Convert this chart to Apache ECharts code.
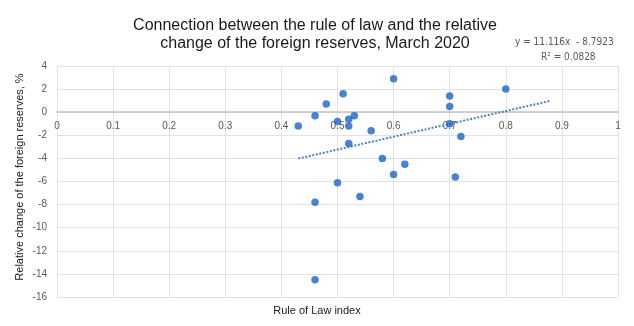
<!DOCTYPE html>
<html>
<head>
<meta charset="utf-8">
<style>
html,body{margin:0;padding:0;background:#fff;}
#c{width:634px;height:326px;}
</style>
<script src="https://cdn.jsdelivr.net/npm/echarts@6/dist/echarts.min.js"></script>
</head>
<body>
<div id="c"></div>
<script>
// Rule of Law index values
const ruleOfLaw = [0.43,0.46,0.48,0.51,0.50,0.52,0.52,0.53,0.60,0.56,0.52,0.70,0.70,0.70,0.72,0.80,0.58,0.62,0.60,0.71,0.50,0.54,0.46,0.46];
// Relative change of foreign reserves, %
const reserveChange = [-1.2,-0.3,0.7,1.6,-0.8,-0.6,-1.2,-0.3,2.9,-1.6,-2.7,1.4,0.5,-1.0,-2.1,2.0,-4.0,-4.5,-5.4,-5.6,-6.1,-7.3,-7.8,-14.5];
// Linear trendline (as printed on chart)
const trendSlope = 11.116;
const trendIntercept = -8.7923;
const trendRangeX = [0.43, 0.88];
const titleLines = ["Connection between the rule of law and the relative", "change of the foreign reserves, March 2020"];
const equationLines = ["y = 11.116x  - 8.7923", "R\u00b2 = 0.0828"];
const xTitle = "Rule of Law index";
const yTitle = "Relative change of the foreign reserves, %";

const points = ruleOfLaw.map((x, i) => [x, reserveChange[i]]);
const trend = trendRangeX.map(x => [x, trendSlope * x + trendIntercept]);

const gridTop = 66, gridBottom = 29, H = 326;
const gridH = H - gridTop - gridBottom;
const yMin = -16, yMax = 4;
const zeroOffset = gridH * (0 - yMin) / (yMax - yMin);

const chart = echarts.init(document.getElementById('c'), null, {renderer: 'canvas'});
chart.setOption({
  animation: false,
  backgroundColor: '#ffffff',
  title: {
    text: titleLines.join('\n'),
    left: 310, top: 12, textAlign: 'center',
    textStyle: {fontFamily: 'Liberation Sans, Arial, sans-serif', fontSize: 16, fontWeight: 'normal', color: '#1a1a1a', lineHeight: 18}
  },
  graphic: [
    {type: 'text', left: 515, top: 37, style: {text: equationLines[0], font: '10px "Liberation Sans Narrow", "DejaVu Sans Condensed", sans-serif', fill: '#595959'}},
    {type: 'text', left: 541, top: 52, style: {text: equationLines[1], font: '10px "Liberation Sans Narrow", "DejaVu Sans Condensed", sans-serif', fill: '#595959'}},
    {type: 'text', left: 'center', top: 305, style: {text: xTitle, font: '11px "Liberation Sans", Arial, sans-serif', fill: '#1a1a1a'}},
    {type: 'text', x: 20, y: 177, rotation: Math.PI / 2, style: {text: yTitle, font: '11px "Liberation Sans", Arial, sans-serif', fill: '#1a1a1a', align: 'center', verticalAlign: 'middle'}}
  ],
  grid: {left: 57, right: 16, top: gridTop, bottom: gridBottom, containLabel: false},
  xAxis: {
    type: 'value', min: 0, max: 1, interval: 0.1,
    position: 'bottom', offset: -zeroOffset,
    axisLine: {show: true, onZero: false, lineStyle: {color: '#c4c4c4', width: 1.5}},
    axisTick: {show: false},
    axisLabel: {fontFamily: 'Liberation Sans, Arial, sans-serif', fontSize: 10, color: '#595959', margin: 9},
    splitLine: {show: true, lineStyle: {color: '#e3e3e3', width: 1}}
  },
  yAxis: {
    type: 'value', min: yMin, max: yMax, interval: 2,
    axisLine: {show: false},
    axisTick: {show: false},
    axisLabel: {fontFamily: 'Liberation Sans, Arial, sans-serif', fontSize: 10, color: '#595959', margin: 10},
    splitLine: {show: true, lineStyle: {color: '#e3e3e3', width: 1}}
  },
  series: [
    {
      type: 'line', data: trend, symbol: 'none', z: 1,
      lineStyle: {color: '#4a84c4', width: 2, type: [2, 1.6]}
    },
    {
      type: 'scatter', data: points, symbol: 'circle', symbolSize: 7.5, z: 2,
      itemStyle: {color: '#1c64c4'}
    }
  ]
});
</script>
</body>
</html>
